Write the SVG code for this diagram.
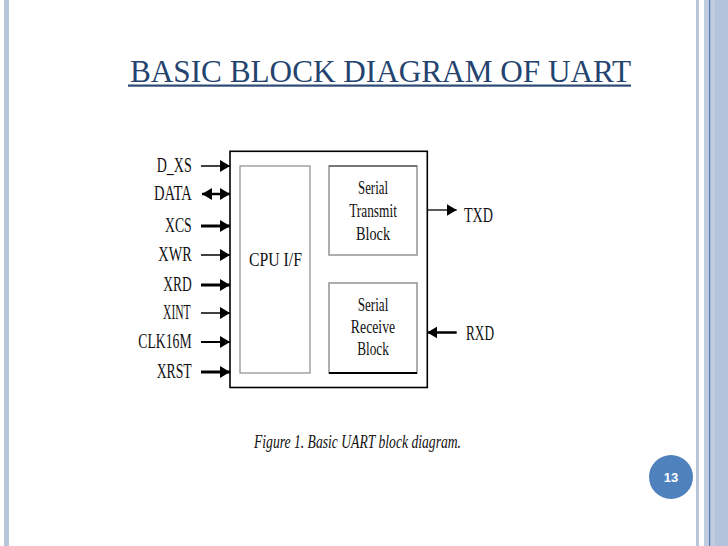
<svg xmlns="http://www.w3.org/2000/svg" width="728" height="546" viewBox="0 0 728 546">
<style>
.lbl{font-family:"Liberation Serif","Times New Roman",serif;font-size:21px;fill:#111}
.blk{font-family:"Liberation Serif","Times New Roman",serif;font-size:18.5px;fill:#111;text-anchor:middle}
.sig{stroke:#000;fill:none}
</style>
<defs>
<marker id="ah" viewBox="0 0 10 12" refX="10" refY="6" markerWidth="10" markerHeight="12" markerUnits="userSpaceOnUse" orient="auto-start-reverse">
<path d="M0,0 L10,6 L0,12 z" fill="#000"/>
</marker>
</defs>
<rect width="728" height="546" fill="#fff"/>
<g id="frame">
<rect x="4" y="0" width="5" height="546" fill="#b8c6dc"/>
<rect x="696" y="0" width="3" height="546" fill="#b8c6dc"/>
<rect x="704" y="0" width="11" height="546" fill="#bfcce0"/>
<rect x="709" y="0" width="1.2" height="546" fill="#5a7bb0"/>
<rect x="715" y="0" width="13" height="546" fill="#b3c3db"/>
</g>
<g id="title">
<text x="130" y="81.7" font-family="'Liberation Serif','Times New Roman',serif" font-size="31" fill="#24446f" textLength="501" lengthAdjust="spacingAndGlyphs">BASIC BLOCK DIAGRAM OF UART</text>
<rect x="128" y="84.5" width="503" height="2.2" fill="#2b4b74"/>
</g>
<g id="uart">
<rect x="230" y="151.3" width="197.3" height="236.2" fill="#fff" stroke="#000" stroke-width="1.6"/>
</g>
<g id="cpu_if">
<rect x="240" y="166" width="70" height="207" fill="#fff" stroke="#8a8a8a" stroke-width="1.2"/>
<text class="blk" x="275.5" y="265.5" textLength="53" lengthAdjust="spacingAndGlyphs" font-size="19.5">CPU I/F</text>
</g>
<g id="tx_block">
<rect x="329" y="166" width="88" height="89" fill="#fff" stroke="#9a9a9a" stroke-width="1.6"/>
<line x1="329" y1="166" x2="417" y2="166" stroke="#666" stroke-width="1.6"/>
<text class="blk" x="373" y="193.5" textLength="30" lengthAdjust="spacingAndGlyphs">Serial</text>
<text class="blk" x="373" y="217" textLength="47.7" lengthAdjust="spacingAndGlyphs">Transmit</text>
<text class="blk" x="373" y="239.5" textLength="34" lengthAdjust="spacingAndGlyphs">Block</text>
</g>
<g id="rx_block">
<rect x="329" y="283" width="88" height="90" fill="#fff" stroke="#9a9a9a" stroke-width="1.6"/>
<line x1="329" y1="373" x2="417" y2="373" stroke="#000" stroke-width="2"/>
<text class="blk" x="373" y="311" textLength="30.7" lengthAdjust="spacingAndGlyphs">Serial</text>
<text class="blk" x="373" y="332.5" textLength="44.3" lengthAdjust="spacingAndGlyphs">Receive</text>
<text class="blk" x="373" y="354.5" textLength="31.7" lengthAdjust="spacingAndGlyphs">Block</text>
</g>
<g id="labels">
<text class="lbl" x="156.7" y="172" textLength="35" lengthAdjust="spacingAndGlyphs">D_XS</text>
<text class="lbl" x="154" y="200" textLength="37.7" lengthAdjust="spacingAndGlyphs">DATA</text>
<text class="lbl" x="165" y="232" textLength="26.7" lengthAdjust="spacingAndGlyphs">XCS</text>
<text class="lbl" x="158.3" y="261" textLength="33.4" lengthAdjust="spacingAndGlyphs">XWR</text>
<text class="lbl" x="163.3" y="291" textLength="28.4" lengthAdjust="spacingAndGlyphs">XRD</text>
<text class="lbl" x="163" y="319" textLength="27.7" lengthAdjust="spacingAndGlyphs">XINT</text>
<text class="lbl" x="138.3" y="348" textLength="53.4" lengthAdjust="spacingAndGlyphs">CLK16M</text>
<text class="lbl" x="156.7" y="378" textLength="35" lengthAdjust="spacingAndGlyphs">XRST</text>
<text class="lbl" x="464" y="222" textLength="29" lengthAdjust="spacingAndGlyphs">TXD</text>
<text class="lbl" x="466" y="340" textLength="28" lengthAdjust="spacingAndGlyphs">RXD</text>
</g>
<g id="connectors">
<line class="sig" x1="201" y1="166" x2="230" y2="166" stroke-width="1.5" marker-end="url(#ah)"/>
<line class="sig" x1="202" y1="194" x2="230" y2="194" stroke-width="2.5" marker-start="url(#ah)" marker-end="url(#ah)"/>
<line class="sig" x1="201" y1="226" x2="230" y2="226" stroke-width="3" marker-end="url(#ah)"/>
<line class="sig" x1="201" y1="255" x2="230" y2="255" stroke-width="1.5" marker-end="url(#ah)"/>
<line class="sig" x1="201" y1="285" x2="230" y2="285" stroke-width="3" marker-end="url(#ah)"/>
<line class="sig" x1="201" y1="313" x2="230" y2="313" stroke-width="1.5" marker-end="url(#ah)"/>
<line class="sig" x1="201" y1="342" x2="230" y2="342" stroke-width="2" marker-end="url(#ah)"/>
<line class="sig" x1="201" y1="372" x2="230" y2="372" stroke-width="3" marker-end="url(#ah)"/>
<line class="sig" x1="427.3" y1="210" x2="456.7" y2="210" stroke-width="1.3" marker-end="url(#ah)"/>
<line class="sig" x1="456.7" y1="332.5" x2="427.3" y2="332.5" stroke-width="2.5" marker-end="url(#ah)"/>
</g>
<g id="caption">
<text x="254" y="448" font-family="'Liberation Serif','Times New Roman',serif" font-style="italic" font-size="18" fill="#111" textLength="207" lengthAdjust="spacingAndGlyphs">Figure 1. Basic UART block diagram.</text>
</g>
<g id="page_number">
<circle cx="671" cy="477" r="22" fill="#4f81bd"/>
<text x="671" y="481.5" text-anchor="middle" font-family="'Liberation Sans',Arial,sans-serif" font-weight="bold" font-size="13" fill="#fff">13</text>
</g>
</svg>
